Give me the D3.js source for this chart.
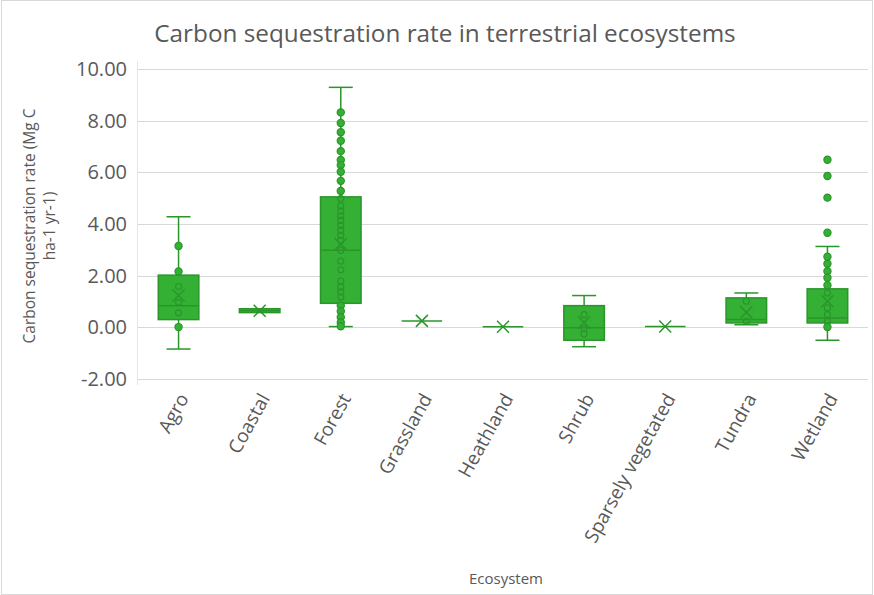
<!DOCTYPE html>
<html>
<head>
<meta charset="utf-8">
<script src="https://cdn.jsdelivr.net/npm/d3@7/dist/d3.min.js"></script>
<style>
  html, body { margin: 0; padding: 0; background: #fff; }
  svg text { font-family: "Open Sans", "Noto Sans", sans-serif; fill: #595959; }
</style>
</head>
<body>
<svg id="chart" width="874" height="595"></svg>
<script>
// Ecosystem categories
const categories = ["Agro", "Coastal", "Forest", "Grassland", "Heathland", "Shrub",
                    "Sparsely vegetated", "Tundra", "Wetland"];

// Box-plot summary per ecosystem (Mg C ha-1 yr-1)
const whiskerLow  = [-0.84, 0.57, 0.03, 0.25, 0.02, -0.75, 0.03, 0.10, -0.50];
const quartile1   = [ 0.30, 0.57, 0.93, 0.25, 0.02, -0.50, 0.03, 0.17,  0.17];
const medians     = [ 0.84, 0.64, 2.98, 0.25, 0.02, -0.02, 0.03, 0.30,  0.36];
const quartile3   = [ 2.02, 0.72, 5.05, 0.25, 0.02,  0.84, 0.03, 1.14,  1.49];
const whiskerHigh = [ 4.28, 0.72, 9.29, 0.25, 0.02,  1.23, 0.03, 1.33,  3.13];
const means       = [ 1.23, 0.64, 3.22, 0.25, 0.02,  0.19, 0.03, 0.58,  1.01];

// Individual observations shown as points
const agroPoints     = [3.15, 2.16, 1.58, 0.97, 0.56, 0.01];
const coastalPoints  = [];
const forestPoints   = [8.32, 7.91, 7.55, 7.22, 6.82, 6.48, 6.28, 6.02, 5.67, 5.28,
                        4.98, 4.70, 4.50, 4.32, 4.14, 3.95, 3.76, 3.56, 3.36, 2.98,
                        2.56, 2.23, 1.79, 1.57, 1.37, 1.17, 0.84, 0.62, 0.39, 0.19, 0.04];
const grassPoints    = [];
const heathPoints    = [];
const shrubPoints    = [0.49, -0.05, -0.26];
const sparsePoints   = [];
const tundraPoints   = [1.01, 0.23];
const wetlandPoints  = [6.49, 5.86, 5.02, 3.66, 2.73, 2.46, 2.17, 1.92, 1.63,
                        1.33, 0.75, 0.49, 0.23, 0.01];
const points = [agroPoints, coastalPoints, forestPoints, grassPoints, heathPoints,
                shrubPoints, sparsePoints, tundraPoints, wetlandPoints];

// Y axis tick values
const yTicks = [-2, 0, 2, 4, 6, 8, 10];

const W = 874, H = 595;
const margin = { left: 138, right: 6, top: 69, bottom: 217 };
const fill = "#34b034";
const stroke = "#2a962a";

const svg = d3.select("#chart");

// Outer chart border
svg.append("rect")
  .attr("x", 1.5).attr("y", 0.5).attr("width", W - 3).attr("height", H - 1)
  .attr("fill", "none").attr("stroke", "#d9d9d9");

const x = d3.scaleBand().domain(categories)
  .range([margin.left, W - margin.right]).paddingInner(0).paddingOuter(0);
const y = d3.scaleLinear().domain([-2, 10]).range([H - margin.bottom + 1, margin.top]);

// Gridlines
svg.append("g")
  .selectAll("line").data(yTicks).join("line")
  .attr("x1", margin.left).attr("x2", W - margin.right)
  .attr("y1", d => Math.round(y(d)) + 0.5).attr("y2", d => Math.round(y(d)) + 0.5)
  .attr("stroke", "#d9d9d9").attr("stroke-width", 1);

// Plot-area left edge
svg.append("line")
  .attr("x1", margin.left - 0.5).attr("x2", margin.left - 0.5)
  .attr("y1", y(10) - 8).attr("y2", y(-2) + 6)
  .attr("stroke", "#e6e6e6").attr("stroke-width", 1);

// Y axis labels (hyphen-minus for negatives)
const fmt = d3.format(".2f");
const yAxis = d3.axisLeft(y).tickValues(yTicks)
  .tickFormat(d => fmt(d).replace("\u2212", "-")).tickSize(0).tickPadding(11);
const gy = svg.append("g").attr("transform", `translate(${margin.left},0)`).call(yAxis);
gy.select(".domain").remove();
gy.selectAll("text").style("font-size", "20px").attr("fill", "#595959");

// X axis labels, rotated
const gx = svg.append("g").attr("transform", `translate(0,${H - margin.bottom + 12})`)
  .call(d3.axisBottom(x).tickSize(0).tickPadding(0));
gx.select(".domain").remove();
gx.selectAll("text")
  .style("font-size", "19px")
  .attr("text-anchor", "end")
  .attr("dy", "0.35em")
  .attr("transform", "translate(5,5) rotate(-61)");

// Boxes
const bw = x.bandwidth() * 0.5;
const cap = 12;
const g = svg.append("g");
categories.forEach((c, i) => {
  const cx = x(c) + x.bandwidth() / 2;
  const grp = g.append("g");
  // whiskers
  if (whiskerHigh[i] > quartile3[i]) {
    grp.append("line").attr("x1", cx).attr("x2", cx)
      .attr("y1", y(quartile3[i])).attr("y2", y(whiskerHigh[i]))
      .attr("stroke", stroke).attr("stroke-width", 1.5);
    grp.append("line").attr("x1", cx - cap).attr("x2", cx + cap)
      .attr("y1", y(whiskerHigh[i])).attr("y2", y(whiskerHigh[i]))
      .attr("stroke", stroke).attr("stroke-width", 1.5);
  }
  if (whiskerLow[i] < quartile1[i]) {
    grp.append("line").attr("x1", cx).attr("x2", cx)
      .attr("y1", y(quartile1[i])).attr("y2", y(whiskerLow[i]))
      .attr("stroke", stroke).attr("stroke-width", 1.5);
    grp.append("line").attr("x1", cx - cap).attr("x2", cx + cap)
      .attr("y1", y(whiskerLow[i])).attr("y2", y(whiskerLow[i]))
      .attr("stroke", stroke).attr("stroke-width", 1.5);
  }
  // box
  const top = y(quartile3[i]), bot = y(quartile1[i]);
  grp.append("rect")
    .attr("x", cx - bw / 2).attr("y", top)
    .attr("width", bw).attr("height", Math.max(bot - top, 0))
    .attr("fill", fill).attr("stroke", stroke).attr("stroke-width", 1.5);
  // median
  grp.append("line").attr("x1", cx - bw / 2).attr("x2", cx + bw / 2)
    .attr("y1", y(medians[i])).attr("y2", y(medians[i]))
    .attr("stroke", stroke).attr("stroke-width", 1.5);
  // points: open inside the box, filled outside
  grp.selectAll("circle").data(points[i]).join("circle")
    .attr("cx", cx).attr("cy", d => y(d))
    .attr("r", d => (d >= quartile1[i] && d <= quartile3[i]) ? 3 : 3.6)
    .attr("fill", d => (d >= quartile1[i] && d <= quartile3[i]) ? "none" : fill)
    .attr("stroke", stroke).attr("stroke-width", 1.2);
  // mean marker
  const m = y(means[i]), s = 6;
  grp.append("path")
    .attr("d", `M${cx - s},${m - s}L${cx + s},${m + s}M${cx - s},${m + s}L${cx + s},${m - s}`)
    .attr("stroke", stroke).attr("stroke-width", 1.5).attr("fill", "none");
});

// Title
svg.append("text")
  .attr("x", 445).attr("y", 42).attr("text-anchor", "middle")
  .style("font-size", "24.3px")
  .text("Carbon sequestration rate in terrestrial ecosystems");

// Axis titles
const yt = svg.append("text")
  .attr("transform", `translate(35,226) rotate(-90)`)
  .attr("text-anchor", "middle")
  .style("font-size", "15.5px");
yt.append("tspan").attr("x", 0).attr("dy", 0).text("Carbon sequestration rate (Mg C");
yt.append("tspan").attr("x", 0).attr("dy", "1.3em").text("ha-1 yr-1)");

svg.append("text")
  .attr("x", 506).attr("y", 584).attr("text-anchor", "middle")
  .style("font-size", "15px")
  .text("Ecosystem");
</script>
</body>
</html>
